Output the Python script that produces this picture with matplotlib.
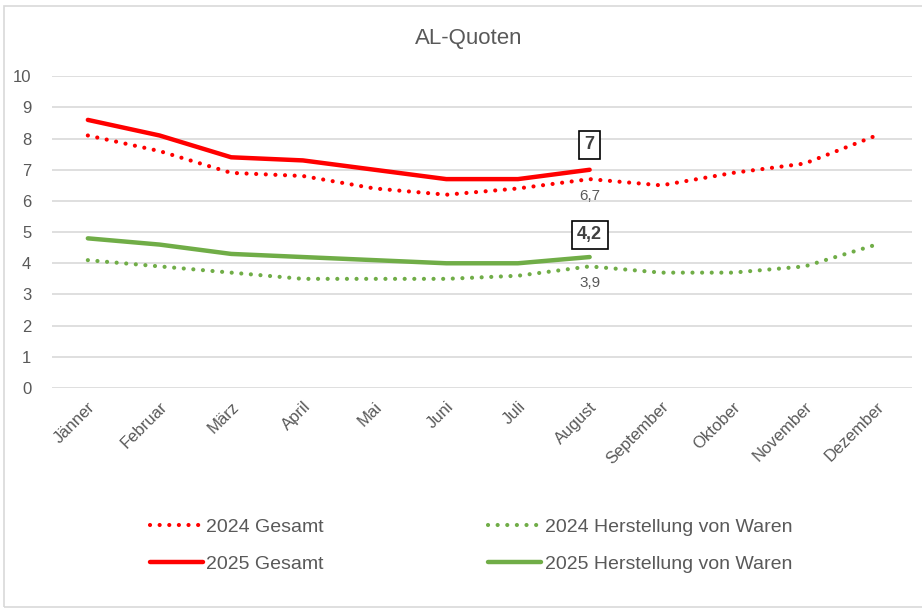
import matplotlib
matplotlib.use("Agg")
import matplotlib.pyplot as plt
from matplotlib.patches import Rectangle

plt.rcParams['font.family'] = ['Liberation Sans Narrow', 'Liberation Sans', 'DejaVu Sans']

monate = ["Jänner", "Februar", "März", "April", "Mai", "Juni", "Juli",
          "August", "September", "Oktober", "November", "Dezember"]
gesamt_2024 = [8.1, 7.6, 6.9, 6.8, 6.4, 6.2, 6.4, 6.7, 6.5, 6.9, 7.2, 8.1]
herst_2024 = [4.1, 3.9, 3.7, 3.5, 3.5, 3.5, 3.6, 3.9, 3.7, 3.7, 3.9, 4.6]
gesamt_2025 = [8.6, 8.1, 7.4, 7.3, 7.0, 6.7, 6.7, 7.0]
herst_2025 = [4.8, 4.6, 4.3, 4.2, 4.1, 4.0, 4.0, 4.2]

rot = "#FF0000"
gruen = "#70AD47"
grau = "#595959"

fig = plt.figure(figsize=(9.22, 6.10), dpi=100)
ax = fig.add_axes([0.0564, 0.364, 0.933, 0.511])

x24 = list(range(len(monate)))
x25 = list(range(len(gesamt_2025)))

punkte = (0, (0.01, 2.3))
l1, = ax.plot(x24, gesamt_2024, color=rot, lw=3.0, linestyle=punkte,
              dash_capstyle='round', label="2024 Gesamt")
l2, = ax.plot(x24, herst_2024, color=gruen, lw=3.0, linestyle=punkte,
              dash_capstyle='round', label="2024 Herstellung von Waren")
l3, = ax.plot(x25, gesamt_2025, color=rot, lw=3.2, solid_capstyle='round',
              label="2025 Gesamt")
l4, = ax.plot(x25, herst_2025, color=gruen, lw=3.2, solid_capstyle='round',
              label="2025 Herstellung von Waren")

def komma(v):
    return ("%g" % v).replace(".", ",")

i = 7
box = dict(boxstyle="square,pad=0.3", fc="white", ec="black", lw=1.2)
ax.annotate(komma(gesamt_2025[i]), (i, gesamt_2025[i]), xytext=(0, 12),
            textcoords="offset points", ha="center", va="bottom",
            fontsize=13, fontweight="bold", color="#404040", bbox=box)
ax.annotate(komma(herst_2025[i]), (i, herst_2025[i]), xytext=(0, 10),
            textcoords="offset points", ha="center", va="bottom",
            fontsize=13, fontweight="bold", color="#404040", bbox=box)
ax.annotate(komma(gesamt_2024[i]), (i, gesamt_2024[i]), xytext=(0, -7),
            textcoords="offset points", ha="center", va="top",
            fontsize=11, color=grau)
ax.annotate(komma(herst_2024[i]), (i, herst_2024[i]), xytext=(0, -7),
            textcoords="offset points", ha="center", va="top",
            fontsize=11, color=grau)

ax.set_xlim(-0.5, len(monate) - 0.5)
ax.set_ylim(0, 10)
ax.set_yticks(range(0, 11))
ax.set_xticks(x24)
ax.set_xticklabels(monate, rotation=45, ha="right", rotation_mode="anchor")
ax.tick_params(axis="both", length=0, labelsize=12, colors=grau)
ax.tick_params(axis="x", pad=8)
ax.tick_params(axis="y", pad=15)
ax.grid(axis="y", color="#D9D9D9", lw=1.2)
ax.set_axisbelow(True)
for s in ax.spines.values():
    s.set_visible(False)

fig.text(0.508, 0.937, "AL-Quoten", ha="center", va="center", fontsize=16, color=grau)

fig.legend([l1, l3, l2, l4], [l1.get_label(), l3.get_label(), l2.get_label(), l4.get_label()],
           ncol=2, loc="center", bbox_to_anchor=(0.511, 0.105), frameon=False,
           fontsize=14, labelcolor=grau, columnspacing=8.45, handlelength=2.7,
           handletextpad=0.2, labelspacing=1.0)

fig.patches.append(Rectangle((4 / 922, 3 / 610), 1.2, 1 - 9 / 610, transform=fig.transFigure,
                             fill=False, ec="#D9D9D9", lw=1.2))

fig.savefig("out.png", dpi=100)
